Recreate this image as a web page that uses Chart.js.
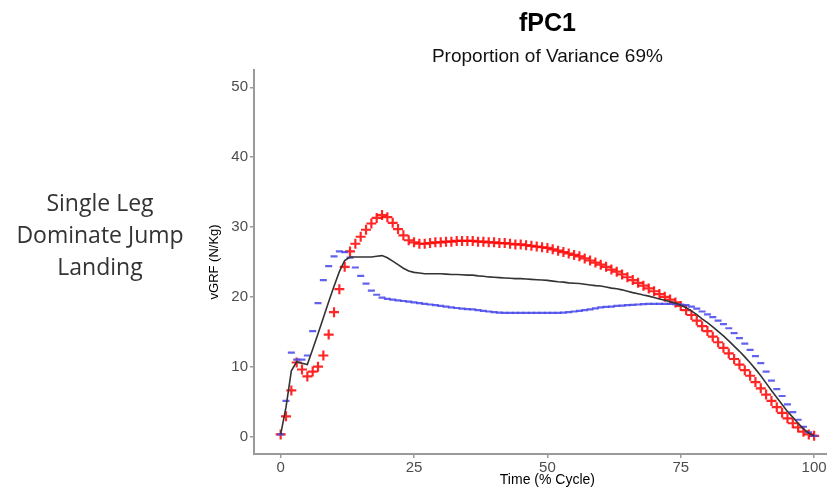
<!DOCTYPE html>
<html>
<head>
<meta charset="utf-8">
<script src="https://cdn.jsdelivr.net/npm/chart.js@4"></script>
<style>
  html, body { margin: 0; padding: 0; background: #fff; overflow: hidden; width: 827px; height: 489px; }
  #wrap { position: relative; width: 848px; height: 489px; }
  #sideLabel {
    position: absolute; left: 0; top: 186px; width: 200px;
    text-align: center; font-family: "Open Sans", sans-serif; font-size: 23px;
    line-height: 32px; color: #333;
  }
</style>
</head>
<body>
<div id="wrap">
  <canvas id="fpcChart" width="848" height="489"></canvas>
  <div id="sideLabel">Single Leg<br>Dominate Jump<br>Landing</div>
</div>
<script>
const cyclePct = [
  0, 1, 2, 3, 4, 5, 6, 7, 8, 9, 10, 11, 12, 13, 14, 15, 16, 17, 18, 19,
  20, 21, 22, 23, 24, 25, 26, 27, 28, 29, 30, 31, 32, 33, 34, 35, 36, 37, 38, 39,
  40, 41, 42, 43, 44, 45, 46, 47, 48, 49, 50, 51, 52, 53, 54, 55, 56, 57, 58, 59,
  60, 61, 62, 63, 64, 65, 66, 67, 68, 69, 70, 71, 72, 73, 74, 75, 76, 77, 78, 79,
  80, 81, 82, 83, 84, 85, 86, 87, 88, 89, 90, 91, 92, 93, 94, 95, 96, 97, 98, 99,
  100
];

// mean curve (black line)
const meanCurve = [
  0.3, 4.2, 9.4, 10.7, 10.5, 10.3, 12.5, 14.7, 17.0, 19.3,
  21.5, 23.6, 25.2, 25.7, 25.7, 25.7, 25.7, 25.7, 25.8, 25.9,
  25.6, 25.1, 24.6, 24.1, 23.7, 23.5, 23.4, 23.3, 23.3, 23.3,
  23.3, 23.25, 23.2, 23.2, 23.15, 23.1, 23.1, 23.0, 22.95, 22.85,
  22.8, 22.75, 22.7, 22.65, 22.6, 22.6, 22.55, 22.5, 22.45, 22.4,
  22.35, 22.25, 22.15, 22.1, 22.0, 21.95, 21.9, 21.8, 21.7, 21.6,
  21.55, 21.4, 21.25, 21.15, 21.0, 20.8, 20.6, 20.45, 20.25, 20.1,
  19.9, 19.7, 19.5, 19.3, 19.1, 18.8, 18.45, 18.0, 17.45, 16.85,
  16.3, 15.7, 15.05, 14.4, 13.7, 12.95, 12.2, 11.4, 10.55, 9.65,
  8.7, 7.65, 6.6, 5.6, 4.6, 3.6, 2.75, 1.9, 1.1, 0.5,
  0.1
];

// mean + fPC1 (red +)
const plusCurve = [
  0.3, 2.9, 6.6, 10.6, 9.6, 8.6, 9.3, 10.0, 11.6, 14.6,
  17.8, 21.1, 24.3, 26.5, 27.6, 28.6, 29.6, 30.5, 31.3, 31.7,
  31.4, 30.6, 29.7, 28.8, 28.1, 27.8, 27.6, 27.6, 27.7, 27.8,
  27.8, 27.9, 27.9, 28.0, 28.0, 28.0, 28.0, 27.9, 27.9, 27.8,
  27.8, 27.7, 27.7, 27.6, 27.5, 27.5, 27.4, 27.3, 27.2, 27.1,
  27.0, 26.8, 26.6, 26.4, 26.2, 26.0, 25.8, 25.5, 25.2, 24.9,
  24.6, 24.3, 23.9, 23.6, 23.2, 22.8, 22.4, 22.0, 21.6, 21.2,
  20.8, 20.4, 20.0, 19.6, 19.2, 18.7, 18.1, 17.4, 16.6, 15.8,
  15.1, 14.3, 13.5, 12.7, 11.9, 11.1, 10.3, 9.5, 8.7, 7.8,
  6.9, 6.0, 5.1, 4.2, 3.4, 2.6, 1.9, 1.3, 0.7, 0.3,
  0.1
];

// mean - fPC1 (blue -)
const minusCurve = [
  0.3, 5.1, 12.0, 11.0, 11.0, 11.6, 15.1, 19.1, 22.4, 24.4,
  25.8, 26.5, 26.4, 25.6, 24.2, 23.0, 21.9, 20.9, 20.3, 19.9,
  19.7, 19.6, 19.5, 19.4, 19.3, 19.2, 19.1, 19.0, 18.9, 18.8,
  18.7, 18.6, 18.5, 18.4, 18.3, 18.25, 18.2, 18.1, 18.0, 17.9,
  17.8, 17.75, 17.7, 17.7, 17.7, 17.7, 17.7, 17.7, 17.7, 17.7,
  17.7, 17.7, 17.7, 17.75, 17.8, 17.9, 18.0, 18.1, 18.2, 18.35,
  18.5, 18.55, 18.6, 18.7, 18.75, 18.8, 18.85, 18.9, 18.95, 19.0,
  19.0, 19.0, 19.0, 19.0, 18.95, 18.9, 18.8, 18.6, 18.3, 17.9,
  17.5, 17.1, 16.6, 16.1, 15.5, 14.8, 14.1, 13.3, 12.4, 11.5,
  10.5, 9.3, 8.0, 6.8, 5.8, 4.6, 3.5, 2.4, 1.4, 0.6,
  0.1
];

const xTicks = [0, 25, 50, 75, 100];
const yTicks = [0, 10, 20, 30, 40, 50];

const toPoints = (ys) => cyclePct.map((x, i) => ({ x: x, y: ys[i] }));

const axisGray = "#9a9a9a";
const sans = "Liberation Sans, Arial, sans-serif";
const tickFont = { family: sans, size: 15 };

const ctx = document.getElementById("fpcChart").getContext("2d");

new Chart(ctx, {
  type: "scatter",
  data: {
    datasets: [
      {
        label: "mean",
        data: toPoints(meanCurve),
        showLine: true,
        borderColor: "#333333",
        borderWidth: 1.6,
        pointRadius: 0,
        tension: 0,
      },
      {
        label: "minus",
        data: toPoints(minusCurve),
        showLine: false,
        pointStyle: "line",
        pointRadius: 3.5,
        pointBorderWidth: 2.2,
        borderColor: "rgba(70, 70, 235, 0.85)",
        backgroundColor: "rgba(70, 70, 235, 0.85)",
      },
      {
        label: "plus",
        data: toPoints(plusCurve),
        showLine: false,
        pointStyle: "cross",
        pointRadius: 5,
        pointBorderWidth: 2.2,
        borderColor: "rgba(255, 0, 0, 0.85)",
        backgroundColor: "rgba(255, 0, 0, 0.85)",
      },
    ],
  },
  options: {
    responsive: false,
    animation: false,
    layout: { padding: { left: 203, right: 0, top: 0, bottom: 0 } },
    plugins: {
      legend: { display: false },
      tooltip: { enabled: false },
      title: {
        display: true,
        text: "fPC1",
        color: "#000",
        font: { family: sans, size: 25, weight: "bold" },
        padding: { top: 9, bottom: 6 },
        fullSize: false,
      },
      subtitle: {
        display: true,
        text: "Proportion of Variance 69%",
        color: "#111",
        font: { family: sans, size: 19 },
        padding: { top: 0, bottom: 2 },
        fullSize: false,
      },
    },
    scales: {
      x: {
        type: "linear",
        min: -5,
        max: 105,
        afterBuildTicks: (scale) => {
          scale.ticks = xTicks.map((v) => ({ value: v }));
        },
        afterFit: (scale) => {
          scale.height = 35;
        },
        grid: { drawOnChartArea: false, drawTicks: true, tickLength: 4, color: axisGray, lineWidth: 1.5 },
        border: { color: axisGray, width: 2 },
        ticks: { color: "#4d4d4d", font: tickFont, padding: 1, maxRotation: 0 },
        title: {
          display: true,
          text: "Time (% Cycle)",
          color: "#000",
          font: { family: sans, size: 14 },
          padding: { top: 0, bottom: 0 },
        },
      },
      y: {
        type: "linear",
        min: -2.5,
        max: 52.5,
        afterBuildTicks: (scale) => {
          scale.ticks = yTicks.map((v) => ({ value: v }));
        },
        afterFit: (scale) => {
          scale.width = 51;
        },
        grid: { drawOnChartArea: false, drawTicks: true, tickLength: 4, color: axisGray, lineWidth: 1.5 },
        border: { color: axisGray, width: 2 },
        ticks: { color: "#4d4d4d", font: tickFont, padding: 2 },
        title: {
          display: true,
          text: "vGRF (N/Kg)",
          color: "#000",
          font: { family: sans, size: 13 },
          padding: { top: 4, bottom: 4 },
        },
      },
    },
  },
});
</script>
</body>
</html>
